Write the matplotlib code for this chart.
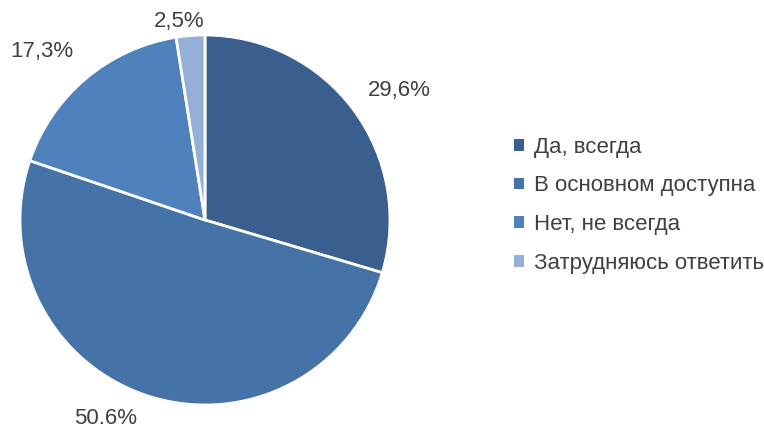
import numpy as np
import matplotlib.pyplot as plt
from matplotlib.patches import Patch

plt.rcParams['font.family'] = ['Liberation Sans Narrow', 'Liberation Sans', 'DejaVu Sans']

categories = ['Да, всегда', 'В основном доступна', 'Нет, не всегда', 'Затрудняюсь ответить']
values = [29.6, 50.6, 17.3, 2.5]
pct_labels = ['29,6%', '50.6%', '17,3%', '2,5%']
colors = ['#3A5F8F', '#4573A8', '#4F81BD', '#95B0D6']
# label placement: angle shift (deg) from slice middle and distance in radii
label_shift = [-3, -9, 4, 3]
label_dist = [1.26, 1.2, 1.27, 1.08]

fig = plt.figure(figsize=(7.64, 4.34), dpi=100)
ax = fig.add_axes([20 / 764, 29 / 434, 370 / 764, 370 / 434])

wedges, _ = ax.pie(values, colors=colors, startangle=90, counterclock=False,
                   wedgeprops=dict(edgecolor='white', linewidth=2))

for w, lab, sh, d in zip(wedges, pct_labels, label_shift, label_dist):
    mid = np.deg2rad((w.theta1 + w.theta2) / 2 + sh)
    ax.text(d * np.cos(mid), d * np.sin(mid), lab, ha='center', va='center',
            fontsize=16, color='#404040')

ax.set_xlim(-1, 1)
ax.set_ylim(-1, 1)
ax.set_aspect('equal')

handles = [Patch(facecolor=c, edgecolor='none') for c in colors]
fig.legend(handles, categories, loc='center left', bbox_to_anchor=(0.647, 0.527),
           frameon=False, fontsize=16, labelcolor='#404040',
           handlelength=0.45, handleheight=0.45, handletextpad=0.45, labelspacing=0.8)

fig.savefig('out.png', dpi=100)
